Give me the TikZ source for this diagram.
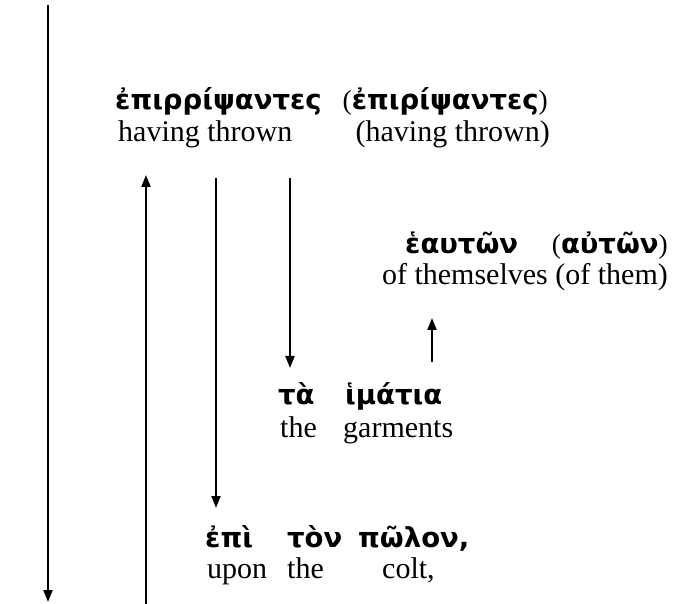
\documentclass[tikz,border=0pt]{standalone}
\usepackage{fontspec}
\setmainfont{Liberation Serif}
\newfontfamily\grk{DejaVu Sans}
\usetikzlibrary{arrows.meta}
\tikzset{
  gk/.style={inner sep=0pt, font=\grk\bfseries\fontsize{27.5}{32}\selectfont},
  en/.style={inner sep=0pt, font=\fontsize{30}{34}\selectfont},
  conn/.style={line width=2.2pt, -{Triangle[length=12pt,width=9pt]}},
}
\begin{document}
\begin{tikzpicture}[x=1pt,y=-1pt]
\useasboundingbox (0,0) rectangle (689,604);
% line 1
\node[gk, anchor=base west] (g1a) at (115,110) {ἐπιρρίψαντες};
\node[gk, anchor=base east] (g1b) at (548,110) {{\rmfamily\mdseries(}ἐπιρίψαντες{\rmfamily\mdseries)}};
\node[en, anchor=base west] (e1a) at (118,142) {having thrown};
\node[en, anchor=base east] (e1b) at (550,142) {(having thrown)};
% line 2
\node[gk, anchor=base west] (g2a) at (405,254) {ἑαυτῶν};
\node[gk, anchor=base east] (g2b) at (668,254) {{\rmfamily\mdseries(}αὐτῶν{\rmfamily\mdseries)}};
\node[en, anchor=base east] (e2) at (668,285) {of themselves (of them)};
% line 3
\node[gk, anchor=base west] (g3a) at (278,405) {τὰ};
\node[gk, anchor=base west] (g3b) at (345,405) {ἱμάτια};
\node[en, anchor=base west] (e3a) at (280,438) {the};
\node[en, anchor=base west] (e3b) at (343,438) {garments};
% line 4
\node[gk, anchor=base west] (g4a) at (205,547) {ἐπὶ};
\node[gk, anchor=base west] (g4b) at (287,547) {τὸν};
\node[gk, anchor=base west] (g4c) at (358,547) {πῶλον,};
\node[en, anchor=base west] (e4a) at (207,578) {upon};
\node[en, anchor=base west] (e4b) at (287,578) {the};
\node[en, anchor=base west] (e4c) at (382,578) {colt,};
% connector ends
\coordinate (a1) at (48,5);   \coordinate (a2) at (48,602);
\coordinate (b1) at (146,604); \coordinate (b2) at (146,175);
\coordinate (c1) at (216,178); \coordinate (c2) at (216,508);
\coordinate (d1) at (290,178); \coordinate (d2) at (290,368);
\coordinate (f1) at (432,362); \coordinate (f2) at (432,318);
\draw[conn] (a1) -- (a2);
\draw[conn] (b1) -- (b2);
\draw[conn] (c1) -- (c2);
\draw[conn] (d1) -- (d2);
\draw[conn] (f1) -- (f2);
\end{tikzpicture}
\end{document}
